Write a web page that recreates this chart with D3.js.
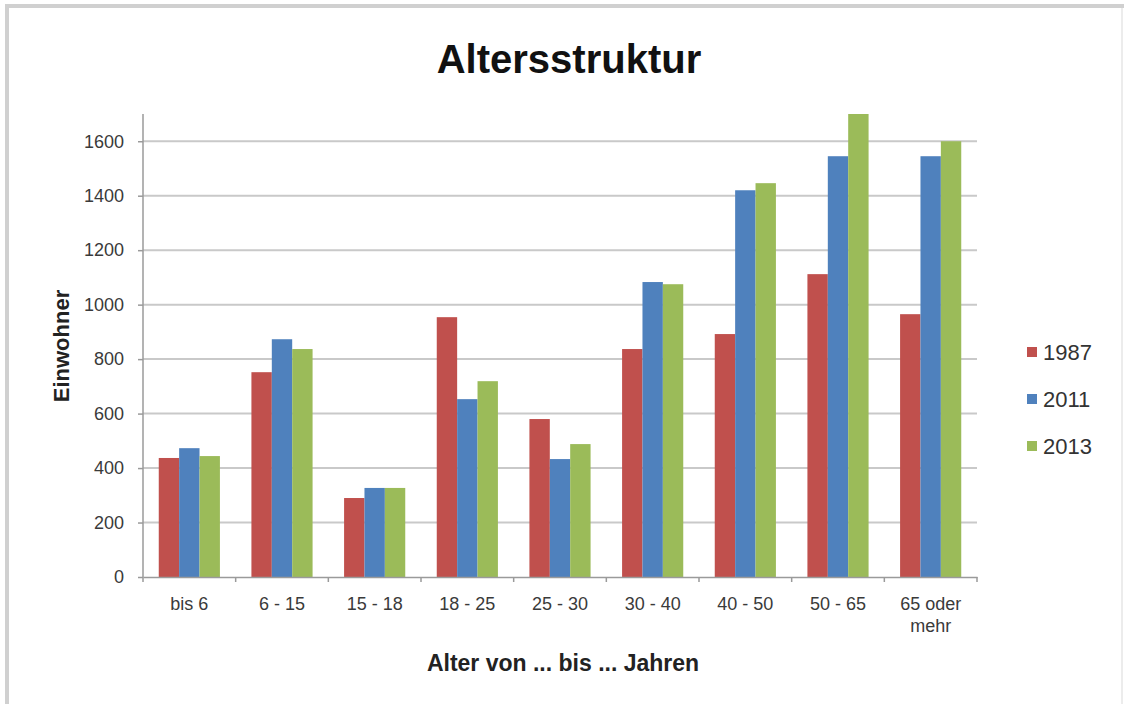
<!DOCTYPE html>
<html>
<head>
<meta charset="utf-8">
<script src="https://cdn.jsdelivr.net/npm/d3@7"></script>
<style>
  html, body { margin: 0; padding: 0; background: #fff; }
  svg { display: block; font-family: "Liberation Sans", Arial, Helvetica, sans-serif; }
</style>
</head>
<body>
<svg id="chart" width="1128" height="704"></svg>
<script>
// Altersgruppen (Kategorien der x-Achse)
const categories = ["bis 6", "6 - 15", "15 - 18", "18 - 25", "25 - 30", "30 - 40", "40 - 50", "50 - 65", "65 oder mehr"];
// Einwohner je Altersgruppe und Jahr
const values1987 = [437, 752, 290, 954, 580, 837, 892, 1112, 965];
const values2011 = [473, 873, 327, 653, 433, 1083, 1420, 1545, 1545];
const values2013 = [444, 837, 327, 719, 488, 1075, 1446, 1700, 1600];
const seriesNames = ["1987", "2011", "2013"];
const yTicks = [0, 200, 400, 600, 800, 1000, 1200, 1400, 1600];

const seriesValues = [values1987, values2011, values2013];
const colors = ["#c0504d", "#4f81bd", "#9bbb59"];

const svg = d3.select("#chart");

// Rahmen
svg.append("line").attr("x1", 7).attr("x2", 7).attr("y1", 4).attr("y2", 704)
  .attr("stroke", "#d0d0d0").attr("stroke-width", 4);
svg.append("line").attr("x1", 5).attr("x2", 1124).attr("y1", 6).attr("y2", 6)
  .attr("stroke", "#d0d0d0").attr("stroke-width", 4);
svg.append("line").attr("x1", 1122).attr("x2", 1122).attr("y1", 8).attr("y2", 704)
  .attr("stroke", "#ececec").attr("stroke-width", 2);

const plot = { left: 143, right: 977, top: 114, bottom: 577 };

const x0 = d3.scaleBand().domain(categories).range([plot.left, plot.right]).padding(0);
const pad = x0.bandwidth() * 0.17;
const x1 = d3.scaleBand().domain(seriesNames).range([pad, x0.bandwidth() - pad]).padding(0);
const y = d3.scaleLinear().domain([0, 1700]).range([plot.bottom, plot.top]);

// Gitterlinien
svg.append("g").selectAll("line").data(yTicks.filter(t => t > 0)).join("line")
  .attr("x1", plot.left).attr("x2", plot.right)
  .attr("y1", d => y(d)).attr("y2", d => y(d))
  .attr("stroke", "#c9c9c9").attr("stroke-width", 2);

// Balken
const groups = svg.append("g").selectAll("g").data(categories).join("g")
  .attr("transform", d => `translate(${x0(d)},0)`);
groups.selectAll("rect")
  .data((c, i) => seriesNames.map((s, k) => ({ s, k, v: seriesValues[k][i] })))
  .join("rect")
  .attr("x", d => x1(d.s))
  .attr("width", x1.bandwidth())
  .attr("y", d => y(d.v))
  .attr("height", d => y(0) - y(d.v))
  .attr("fill", d => colors[d.k]);

// y-Achse
const yAxis = svg.append("g").attr("transform", `translate(${plot.left},0)`)
  .call(d3.axisLeft(y).tickValues(yTicks).tickSize(5).tickPadding(14).tickFormat(d3.format("d")));
yAxis.select(".domain").attr("stroke", "#9a9a9a").attr("stroke-width", 1.5)
  .attr("d", `M0,${plot.top}V${plot.bottom}`);
yAxis.selectAll(".tick line").attr("stroke", "#9a9a9a").attr("stroke-width", 1.5);
yAxis.selectAll(".tick text").attr("font-size", 18).attr("fill", "#3a3a3a")
  .attr("font-family", "'Liberation Sans', Arial, sans-serif");

// x-Achse
const xAxis = svg.append("g").attr("transform", `translate(0,${plot.bottom})`)
  .call(d3.axisBottom(x0).tickSize(0).tickPadding(20));
xAxis.select(".domain").attr("stroke", "#9a9a9a").attr("stroke-width", 1.5);
xAxis.selectAll(".tick text").attr("font-size", 18).attr("fill", "#3a3a3a")
  .attr("font-family", "'Liberation Sans', Arial, sans-serif")
  .each(function(d) {
    const t = d3.select(this);
    const parts = d === "65 oder mehr" ? ["65 oder", "mehr"] : [d];
    t.text(null);
    parts.forEach((p, i) => t.append("tspan").attr("x", 0).attr("dy", i === 0 ? "0.71em" : "1.25em").text(p));
  });
// Teilstriche an den Kategoriegrenzen
const bounds = categories.map(c => x0(c)).concat([plot.right]);
svg.append("g").selectAll("line").data(bounds).join("line")
  .attr("x1", d => d).attr("x2", d => d)
  .attr("y1", plot.bottom).attr("y2", plot.bottom + 5)
  .attr("stroke", "#9a9a9a").attr("stroke-width", 1.5);

// Titel und Achsentitel
svg.append("text").attr("x", 569).attr("y", 73).attr("text-anchor", "middle")
  .attr("font-size", 40).attr("font-weight", "bold").attr("fill", "#111")
  .text("Altersstruktur");
svg.append("text").attr("x", 563).attr("y", 671).attr("text-anchor", "middle")
  .attr("font-size", 23).attr("font-weight", "bold").attr("fill", "#222")
  .text("Alter von ... bis ... Jahren");
svg.append("text").attr("transform", "translate(69,346) rotate(-90)").attr("text-anchor", "middle")
  .attr("font-size", 22).attr("font-weight", "bold").attr("fill", "#222")
  .text("Einwohner");

// Legende
const legend = svg.append("g").selectAll("g").data(seriesNames).join("g")
  .attr("transform", (d, i) => `translate(1027,${360 + i * 47})`);
legend.append("rect").attr("x", 0).attr("y", -13).attr("width", 10).attr("height", 10)
  .attr("fill", (d, i) => colors[i]);
legend.append("text").attr("x", 16).attr("y", 0).attr("font-size", 22).attr("fill", "#333")
  .text(d => d);
</script>
</body>
</html>
